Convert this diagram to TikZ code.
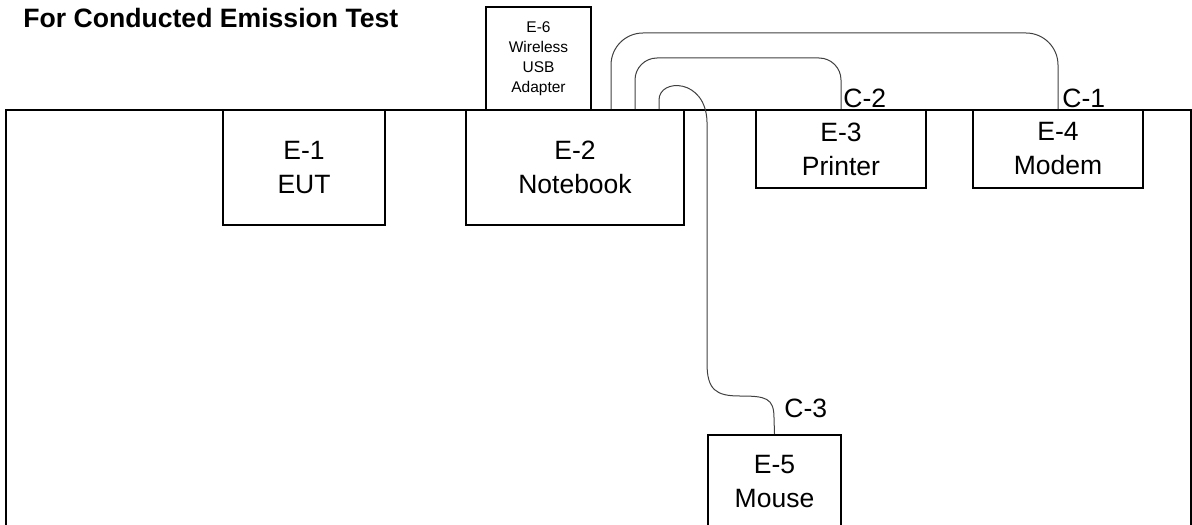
\documentclass[tikz,border=0pt]{standalone}
\usepackage{fontspec}
\setmainfont{Liberation Sans}

\begin{document}
\begin{tikzpicture}[
    x=0.5pt, y=-0.5pt,
    equip/.style={draw, line width=1pt, align=center, inner sep=0pt, font=\fontsize{13.25}{17}\selectfont},
    cable/.style={draw=black!75, line width=0.5pt},
    tag/.style={anchor=base west, inner sep=0pt, font=\fontsize{13.25}{17}\selectfont}
]
\useasboundingbox (0,0) rectangle (1192,524);

% -------------------------
% Title and Table
% -------------------------
\node[anchor=base west, inner sep=0pt, font=\fontsize{13.3}{16}\selectfont\bfseries] (Title) at (23,28) {For Conducted Emission Test};
\draw[line width=1pt] (6,560) -- (6,110) -- (1191,110) -- (1191,560);

% -------------------------
% Equipment
% -------------------------
\node[equip, minimum width=81pt, minimum height=57.5pt] (E1) at (304,167.5) {E-1\\EUT};
\node[equip, minimum width=109pt, minimum height=57.5pt] (E2) at (575,167.5) {E-2\\Notebook};
\node[equip, minimum width=52.5pt, minimum height=51.5pt, font=\fontsize{7.75}{10}\selectfont] (E6) at (538.5,58.5) {E-6\\Wireless\\USB\\Adapter};
\node[equip, minimum width=85pt, minimum height=39pt] (E3) at (841,149) {E-3\\Printer};
\node[equip, minimum width=85pt, minimum height=39pt] (E4) at (1058,149) {E-4\\Modem};
\node[equip, minimum width=66.5pt, minimum height=47pt] (E5) at (774.5,482) {E-5\\Mouse};

% -------------------------
% Cables
% -------------------------
\coordinate (C1top) at (1058,33);
\coordinate (C2top) at (841,58);

% C-1: Notebook to Modem
\draw[cable, rounded corners=16pt] ([xshift=18pt]E2.north) |- (C1top) -- (E4.north);
% C-2: Notebook to Printer
\draw[cable, rounded corners=11pt] ([xshift=30pt]E2.north) |- (C2top) -- (E3.north);
% C-3: Notebook to Mouse
\draw[cable] ([xshift=42pt]E2.north) -- (659,100) .. controls (659,78) and (706,78) .. (707,122)
    -- (707,363) .. controls (707,390) and (716,396) .. (740,396)
    .. controls (766,396) and (774,398) .. (774,418) -- (E5.north);

% -------------------------
% Cable Labels
% -------------------------
\node[tag] (C1) at (1062,107) {C-1};
\node[tag] (C2) at (843,107) {C-2};
\node[tag] (C3) at (784,417) {C-3};

\end{tikzpicture}
\end{document}
